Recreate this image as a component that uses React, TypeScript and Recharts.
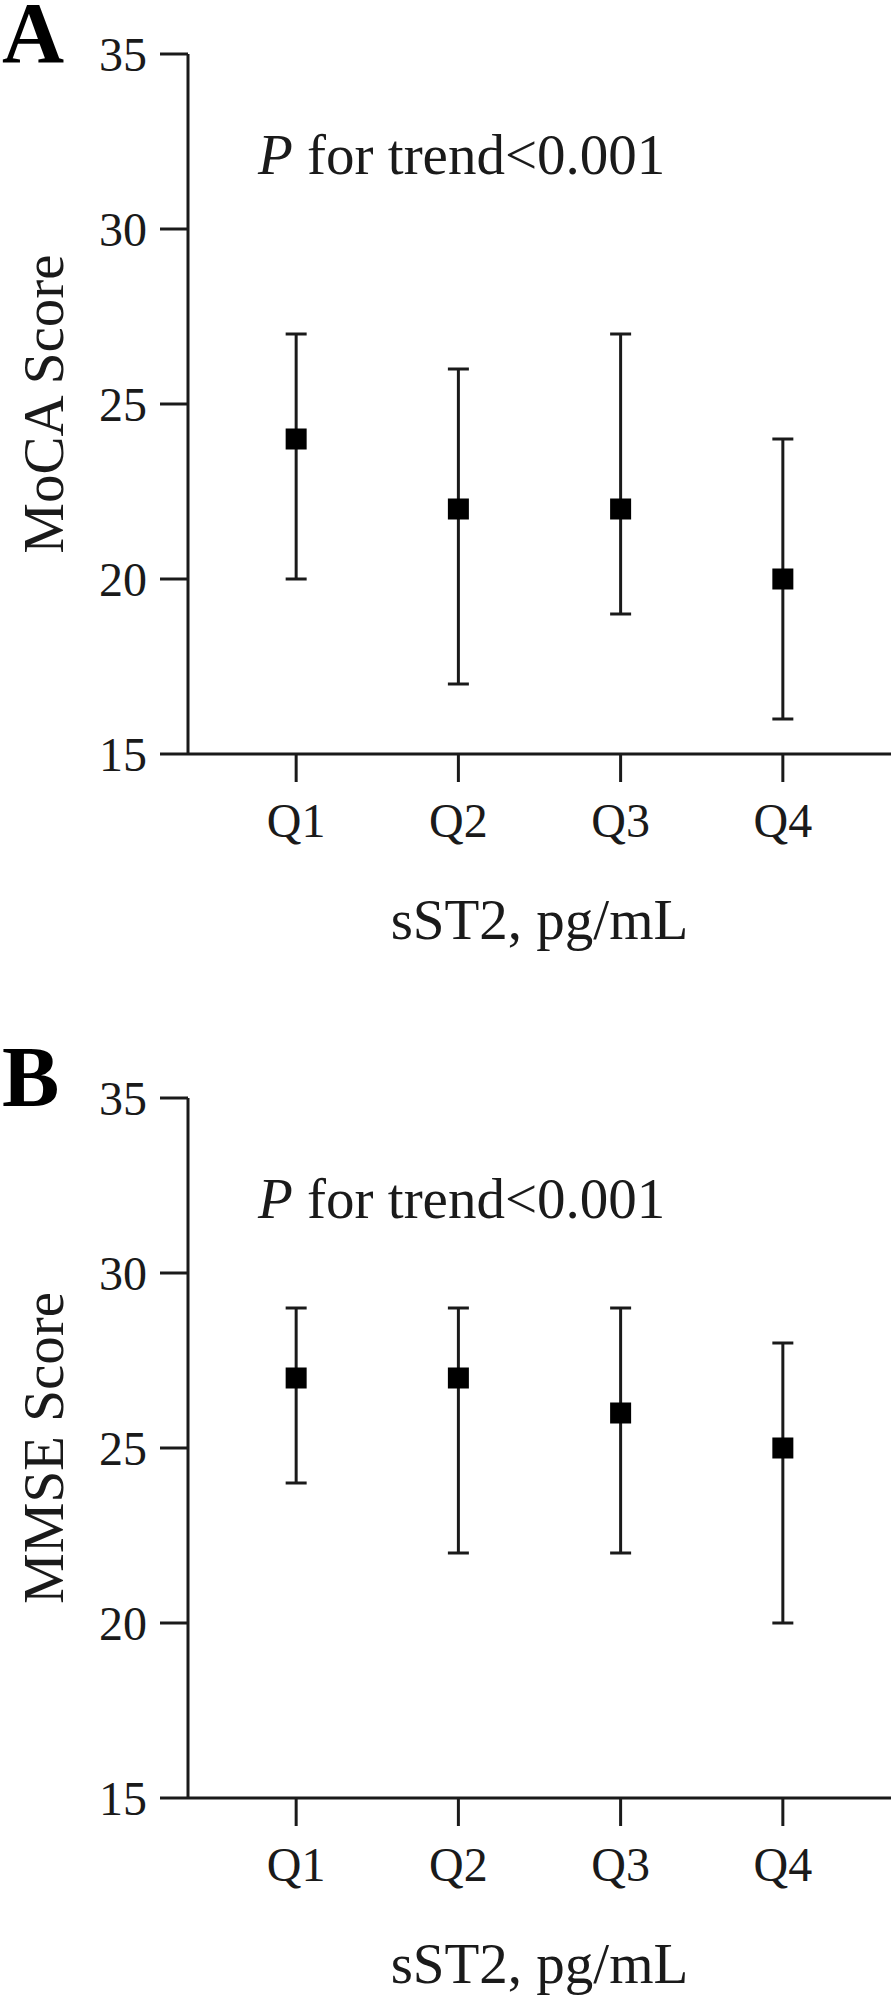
import { ScatterChart, Scatter, XAxis, YAxis, ErrorBar } from 'recharts';

const QUARTILES = ['Q1', 'Q2', 'Q3', 'Q4'];
const Y_TICKS = [15, 20, 25, 30, 35];

// median and interquartile range per sST2 quartile
const MOCA_MEDIAN = [24, 22, 22, 20];
const MOCA_LOW = [20, 17, 19, 16];
const MOCA_HIGH = [27, 26, 27, 24];

const MMSE_MEDIAN = [27, 27, 26, 25];
const MMSE_LOW = [24, 22, 22, 20];
const MMSE_HIGH = [29, 29, 29, 28];

const INK = '#1a1a1a';
const FONT = '"Liberation Serif", "Times New Roman", serif';
const MARKER = 21;

interface PanelProps {
  letter: string;
  yLabel: string;
  median: number[];
  low: number[];
  high: number[];
  top: number;
}

const SquareDot = (p: any) => (
  <rect x={p.cx - MARKER / 2} y={p.cy - MARKER / 2} width={MARKER} height={MARKER} fill="#000" />
);

function Panel({ letter, yLabel, median, low, high, top }: PanelProps) {
  const data = QUARTILES.map((q, i) => ({
    x: i + 1,
    q,
    y: median[i],
    err: [median[i] - low[i], high[i] - median[i]],
  }));

  const tickStyle = { fontSize: 48, fill: INK, fontFamily: FONT };
  const titleStyle = { fontSize: 57, fill: INK, fontFamily: FONT, textAnchor: 'middle' as const };

  return (
    <div style={{ position: 'absolute', left: 0, top, width: 894, height: 953 }}>
      <ScatterChart width={894} height={953} margin={{ top: 54, right: 3, bottom: 0, left: 0 }}>
        <XAxis
          type="number"
          dataKey="x"
          domain={[1 / 3, 14 / 3]}
          ticks={[1, 2, 3, 4]}
          tickFormatter={v => QUARTILES[v - 1]}
          height={199}
          tickSize={28}
          tickMargin={21}
          tick={tickStyle}
          axisLine={{ stroke: INK, strokeWidth: 3 }}
          tickLine={{ stroke: INK, strokeWidth: 3 }}
          label={{ value: 'sST2, pg/mL', position: 'insideBottom', offset: 14, style: titleStyle }}
        />
        <YAxis
          type="number"
          dataKey="y"
          domain={[15, 35]}
          ticks={Y_TICKS}
          width={188}
          tickSize={28}
          tickMargin={13}
          tick={tickStyle}
          axisLine={{ stroke: INK, strokeWidth: 3 }}
          tickLine={{ stroke: INK, strokeWidth: 3 }}
          label={{ value: yLabel, angle: -90, position: 'insideLeft', offset: 43, style: titleStyle }}
        />
        <Scatter data={data} fill="#000" shape={SquareDot} isAnimationActive={false}>
          <ErrorBar dataKey="err" direction="y" width={10.5} strokeWidth={3} stroke={INK} isAnimationActive={false} />
        </Scatter>
      </ScatterChart>
      <svg
        width={894}
        height={953}
        style={{ position: 'absolute', left: 0, top: 0, pointerEvents: 'none', overflow: 'visible' }}
      >
        <text x={2} y={62} fontFamily={FONT} fontWeight="bold" fontSize={86} fill="#000">{letter}</text>
        <text x={258} y={174} fontFamily={FONT} fontSize={57} fill={INK}>
          <tspan fontStyle="italic">P</tspan> for trend&lt;0.001
        </text>
      </svg>
    </div>
  );
}

export default function App() {
  return (
    <div style={{ position: 'absolute', left: 0, top: 0, width: 894, height: 1997, background: '#fff' }}>
      <Panel letter="A" yLabel="MoCA Score" median={MOCA_MEDIAN} low={MOCA_LOW} high={MOCA_HIGH} top={0} />
      <Panel letter="B" yLabel="MMSE Score" median={MMSE_MEDIAN} low={MMSE_LOW} high={MMSE_HIGH} top={1044} />
    </div>
  );
}
